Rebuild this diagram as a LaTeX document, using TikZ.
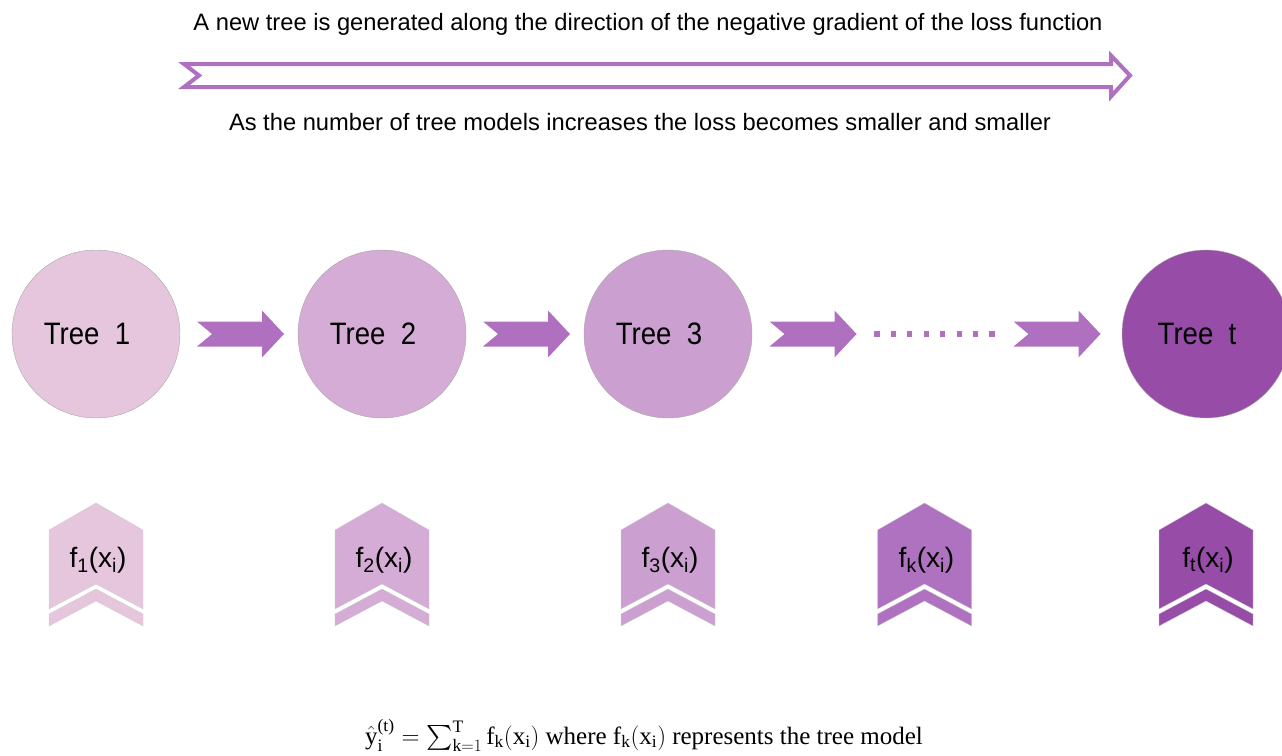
\documentclass[tikz,border=0pt]{standalone}
\usepackage{amsmath}
\usepackage{graphicx}
\usepackage{fontspec}
\setmainfont{Liberation Sans}
\newfontfamily\serif{Liberation Serif}
\newcommand\sr[1]{\text{\serif #1}}
\newcommand\treelab[1]{\scalebox{0.89}[1]{Tree\ \ #1}}
\definecolor{cA}{HTML}{E6C6DD}
\definecolor{cB}{HTML}{D4ACD5}
\definecolor{cC}{HTML}{CBA0D0}
\definecolor{cK}{HTML}{AF72C0}
\definecolor{cT}{HTML}{974CA8}
\definecolor{arr}{HTML}{B070C0}
\tikzset{
  tree/.style={circle, minimum size=168pt, inner sep=0pt, draw=gray!70, line width=0.4pt},
  treetext/.style={font=\fontsize{31}{36}\selectfont, inner sep=0pt},
  flabel/.style={font=\fontsize{28}{32}\selectfont, inner sep=0pt},
  toptext/.style={font=\fontsize{23.7}{28}\selectfont, inner sep=0pt},
  blockarrow/.pic={
    \fill[arr] (-43.5,-12.5) -- (21.5,-12.5) -- (21.5,-23.5) -- (43.5,0) -- (21.5,23.5) -- (21.5,12.5) -- (-43.5,12.5) -- (-28.5,0) -- cycle;
  },
  chev/.pic={
    \filldraw[fill=#1, draw=gray!40, line width=0.3pt] (-47,27) -- (0,0) -- (47,27) -- (47,106) -- (0,81) -- (-47,106) -- cycle;
    \filldraw[fill=#1, draw=gray!40, line width=0.3pt] (-47,111) -- (0,86) -- (47,111) -- (47,123) -- (0,98) -- (-47,123) -- cycle;
  },
}
\begin{document}
\begin{tikzpicture}[x=1pt,y=-1pt]
\useasboundingbox (0,0) rectangle (1282,755);
% top texts and outline arrow
\node[toptext] (txtA) at (648,24) {A new tree is generated along the direction of the negative gradient of the loss function};
\filldraw[draw=arr, fill=white, line width=4pt, line join=miter]
  (184,64) -- (1111,64) -- (1111,55.5) -- (1130,75.5) -- (1111,96.5) -- (1111,87) -- (184,87) -- (199,75.5) -- cycle;
\node[toptext] (txtB) at (640,122) {As the number of tree models increases the loss becomes smaller and smaller};
% trees
\node[tree, fill=cA] (t1) at (96,334) {};
\node[tree, fill=cB] (t2) at (382,334) {};
\node[tree, fill=cC] (t3) at (668,334) {};
\node[tree, fill=cT] (tt) at (1206,334) {};
\node[treetext] (l1) at ([xshift=-9pt]t1.center) {\treelab{1}};
\node[treetext] (l2) at ([xshift=-9pt]t2.center) {\treelab{2}};
\node[treetext] (l3) at ([xshift=-9pt]t3.center) {\treelab{3}};
\node[treetext] (lt) at ([xshift=-9pt]tt.center) {\treelab{t}};
% arrows
\pic at (240.5,334) {blockarrow};
\pic at (526.5,334) {blockarrow};
\pic at (813,334) {blockarrow};
\pic at (1057,334) {blockarrow};
% dots
\foreach \i in {0,...,7} {
  \fill[arr] ({877+\i*16.43-2.6},331.4) rectangle ++(5.2,5.2);
}
% chevrons
\pic at (96,503) {chev=cA};
\pic at (382,503) {chev=cB};
\pic at (668,503) {chev=cC};
\pic at (924.5,503) {chev=cK};
\pic at (1206,503) {chev=cT};
\node[flabel] (f1) at (98,560) {f\textsubscript{1}(x\textsubscript{i})};
\node[flabel] (f2) at (384,560) {f\textsubscript{2}(x\textsubscript{i})};
\node[flabel] (f3) at (670,560) {f\textsubscript{3}(x\textsubscript{i})};
\node[flabel] (fk) at (926.5,560) {f\textsubscript{k}(x\textsubscript{i})};
\node[flabel] (ft) at (1208,560) {f\textsubscript{t}(x\textsubscript{i})};
% formula
\node[inner sep=0pt, anchor=base, font=\fontsize{25}{28}\selectfont\serif] (formula) at (644,744)
  {$\hat{\sr{y}}_{\sr{i}}^{\sr{(t)}} = \sum_{\sr{k}=1}^{\sr{T}} \sr{f}_{\sr{k}}(\sr{x}_{\sr{i}})$ where $\sr{f}_{\sr{k}}(\sr{x}_{\sr{i}})$ represents the tree model};
\end{tikzpicture}
\end{document}
